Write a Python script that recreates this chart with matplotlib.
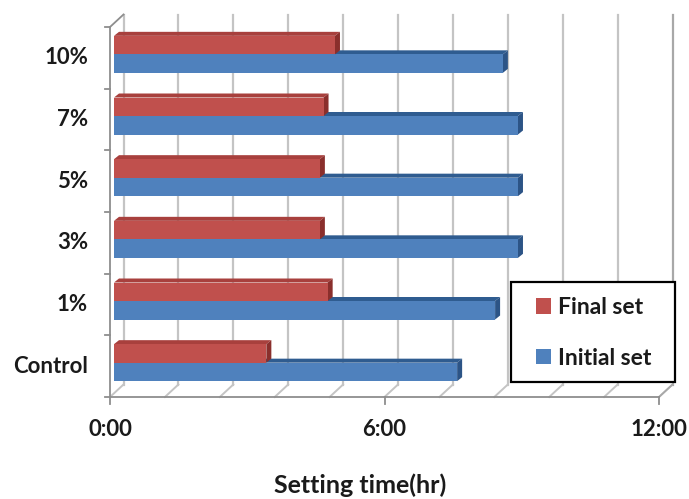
import matplotlib
matplotlib.use("Agg")
import matplotlib.pyplot as plt
from matplotlib.patches import Polygon, Patch, Rectangle

# Setting times in hours (Final set / Initial set) per mix
categories = ["Control", "1%", "3%", "5%", "7%", "10%"]
final_set = [3.33, 4.67, 4.50, 4.50, 4.58, 4.83]
initial_set = [7.50, 8.33, 8.83, 8.83, 8.83, 8.50]
x_ticks = [0, 6, 12]
x_ticklabels = ["0:00", "6:00", "12:00"]
grid_step = 1.2
x_max = 12

RED, RED_TOP, RED_END = "#C0504D", "#A8403D", "#8A2F2C"
BLUE, BLUE_TOP, BLUE_END = "#4F81BD", "#2F5C90", "#2C5486"
GRID, AXIS = "#C4C4C4", "#8E8E8E"
TXT = "#1A1A1A"
FONT = "Lato"
FS = 16

W, H = 689, 499
fig = plt.figure(figsize=(W / 100, H / 100), dpi=100)
ax = fig.add_axes([110 / W, 1 - 397 / H, 549 / W, 370 / H])
n = len(categories)
ax.set_xlim(0, x_max)
ax.set_ylim(-0.5, n - 0.5)
ax.axis("off")

# pixel -> data conversion for the oblique depth effect
px_x = 549 / x_max
px_y = 370 / n
DX, DY = 13.5 / px_x, 12.5 / px_y      # full depth of the plot box
BX, BY = 4.0 / px_x, 3.5 / px_y        # depth at which bars stand
EX, EY = 5.0 / px_x, 4.0 / px_y        # bar extrusion
bar_h = 0.30
y0, y1 = -0.5, n - 0.5

# back wall gridlines and floor diagonals
k = 0
while k * grid_step <= x_max + 1e-9:
    gx = k * grid_step
    last = abs(gx - x_max) < 1e-9
    ax.plot([gx + DX, gx + DX], [y0 + DY, y1 + DY], color="#A8A8A8" if last else GRID,
            lw=1.6, clip_on=False, zorder=1)
    ax.plot([gx, gx + DX], [y0, y0 + DY], color=GRID, lw=1.4, clip_on=False, zorder=1)
    k += 1

# front axes lines
ax.plot([0, x_max], [y0, y0], color=AXIS, lw=1.3, clip_on=False, zorder=2)
ax.plot([0, 0], [y0, y1], color=AXIS, lw=1.3, clip_on=False, zorder=2)
ax.plot([0, DX], [y1, y1 + DY], color=AXIS, lw=1.3, clip_on=False, zorder=2)
ax.plot([x_max, x_max + DX], [y0, y0 + DY], color="#A8A8A8", lw=1.3, clip_on=False, zorder=1)

# category tick marks
for i in range(n + 1):
    yy = y0 + i
    ax.plot([0, -5 / px_x], [yy, yy], color=AXIS, lw=1.3, clip_on=False, zorder=2)
for xt in x_ticks:
    ax.plot([xt, xt], [y0, y0 - 7 / px_y], color=AXIS, lw=1.3, clip_on=False, zorder=2)


def bar3d(value, ylow, color, top, end, z):
    xa, xb = BX, value + BX
    ya, yb = ylow + BY, ylow + bar_h + BY
    front = Polygon([(xa, ya), (xb, ya), (xb, yb), (xa, yb)], closed=True,
                    facecolor=color, edgecolor="none", zorder=z + 0.2, clip_on=False)
    topf = Polygon([(xa, yb), (xb, yb), (xb + EX, yb + EY), (xa + EX, yb + EY)], closed=True,
                   facecolor=top, edgecolor="none", zorder=z, clip_on=False)
    endf = Polygon([(xb, ya), (xb + EX, ya + EY), (xb + EX, yb + EY), (xb, yb)], closed=True,
                   facecolor=end, edgecolor="none", zorder=z + 0.1, clip_on=False)
    for p in (topf, endf, front):
        ax.add_patch(p)


for i, (fv, iv) in enumerate(zip(final_set, initial_set)):
    bar3d(iv, i - bar_h, BLUE, BLUE_TOP, BLUE_END, 3)
    bar3d(fv, i, RED, RED_TOP, RED_END, 4)

# tick labels
for i, c in enumerate(categories):
    ax.text(-22 / px_x, i, c, ha="right", va="center", fontsize=FS, fontweight="bold",
            family=FONT, color=TXT, clip_on=False)
for xt, lab in zip(x_ticks, x_ticklabels):
    ax.text(xt, y0 - 33 / px_y, lab, ha="center", va="center", fontsize=FS,
            fontweight="bold", family=FONT, color=TXT, clip_on=False)

fig.text(360 / W, 1 - 493 / H, "Setting time(hr)", ha="center", va="baseline", fontsize=18,
         fontweight="bold", family=FONT, color=TXT)

# legend with a separately drawn frame
fig.patches.append(Rectangle((511 / W, 1 - 382 / H), 164 / W, 100 / H,
                             transform=fig.transFigure, facecolor="white",
                             edgecolor="black", lw=1.6, zorder=5))
handles = [Patch(facecolor=RED, edgecolor="none", label="Final set"),
           Patch(facecolor=BLUE, edgecolor="none", label="Initial set")]
leg = fig.legend(handles=handles, loc="center", bbox_to_anchor=(594 / W, 1 - 333 / H),
                 frameon=False, prop={"family": FONT, "weight": "bold", "size": 16.5},
                 handlelength=0.65, handleheight=0.65, handletextpad=0.3,
                 labelspacing=1.3, borderpad=0, borderaxespad=0)
leg.set_zorder(6)
for t in leg.get_texts():
    t.set_color(TXT)

fig.savefig("out.png", dpi=100)
